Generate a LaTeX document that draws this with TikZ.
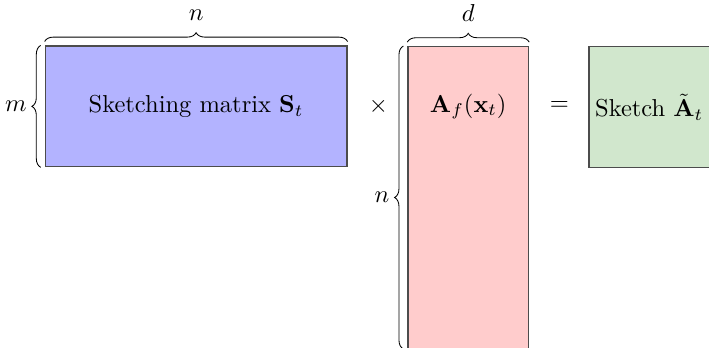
\documentclass[tikz,border=0pt]{standalone}
\usepackage{amsmath,amssymb,bm}
\usepackage{tikz}
\usetikzlibrary{positioning,calc,decorations.pathreplacing}
\definecolor{sfill}{HTML}{B3B3FF}
\definecolor{afill}{HTML}{FFCCCC}
\definecolor{kfill}{HTML}{D1E7CD}
\tikzset{
  mat/.style={draw=black!70,line width=0.5pt,inner sep=2pt,align=center},
  brc/.style={decorate,decoration={brace,amplitude=3.6pt,raise=1.6pt},line width=0.35pt},
  dim/.style={inner sep=1pt},
}
\begin{document}
\begin{tikzpicture}[x=0.866cm,y=0.866cm]
\useasboundingbox (-0.75,0.763) rectangle (11.0,-4.988);
\node[mat,fill=sfill,minimum width=5*0.866cm,minimum height=2*0.866cm] (S) at (2.5,-1) {Sketching matrix $\mathbf{S}_t$};
\node (times) at (5.52,-1) {$\times$};
\node[mat,fill=afill,minimum width=2*0.866cm,minimum height=5*0.866cm,anchor=north west] (A) at (6,0) {};
\node at ($(A.north)+(0,-1)$) (Alab) {$\mathbf{A}_f(\mathbf{x}_t)$};
\node (eq) at (8.52,-1) {$=$};
\node[mat,fill=kfill,minimum width=2*0.866cm,minimum height=2*0.866cm,anchor=north west] (K) at (9,0) {Sketch $\tilde{\mathbf{A}}_t$};
% braces
\draw[brc] (S.north west) -- (S.north east) node[midway,above=9pt,dim] (n1) {$n$};
\draw[brc] (S.south west) -- (S.north west) node[midway,left=6.2pt,dim] (m1) {$m$};
\draw[brc] (A.north west) -- (A.north east) node[midway,above=9pt,dim] (d1) {$d$};
\draw[brc] (A.south west) -- (A.north west) node[midway,left=6.2pt,dim] (n2) {$n$};
\end{tikzpicture}
\end{document}
